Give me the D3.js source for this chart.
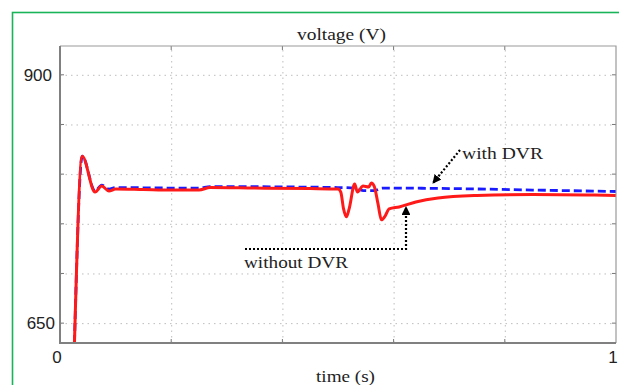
<!DOCTYPE html>
<html>
<head>
<meta charset="utf-8">
<script src="https://cdn.jsdelivr.net/npm/d3@7"></script>
<style>
  html, body { margin: 0; padding: 0; background: #fff; }
  #chart { width: 619px; height: 385px; }
  .grid line { stroke: #bdbdbd; stroke-width: 1; stroke-dasharray: 1.5,4; }
  .serif { font-family: "Liberation Serif", "DejaVu Serif", serif; fill: #222; font-size: 17px; }
</style>
</head>
<body>
<div id="chart"></div>
<script>

// time axis (s)
var xTicks = [0, 0.2, 0.4, 0.6, 0.8, 1];
var xTickLabels = ['0', '', '', '', '', '1'];
// voltage axis (V)
var yTicks = [650, 700, 750, 800, 850, 900];
var yTickLabels = ['650', '', '', '', '', '900'];

// without DVR (red, solid)
var timeNoDvr = [0.026, 0.040, 0.063, 0.075, 0.088, 0.10, 0.15, 0.20, 0.25, 0.27, 0.35, 0.45, 0.50,
    0.505, 0.51, 0.515, 0.52, 0.53, 0.535, 0.545, 0.555, 0.56, 0.565, 0.572, 0.578, 0.585, 0.592,
    0.61, 0.64, 0.68, 0.75, 0.85, 0.95, 1.0];
var voltNoDvr = [630, 818, 782, 788, 783, 785, 784.5, 784, 784, 786.5, 786, 785.5, 785,
    782, 765, 757, 765, 790, 782, 788, 787, 791, 788, 770, 754, 758, 765,
    767, 772, 776, 778.5, 779.5, 779, 778.5];

// with DVR (blue, dashed)
var timeDvr = [0.026, 0.040, 0.063, 0.075, 0.088, 0.10, 0.20, 0.25, 0.27, 0.50, 0.53, 0.545, 0.565, 0.58, 0.70, 0.85, 1.0];
var voltDvr = [630, 818, 783, 789, 785, 786.5, 786, 786, 787.5, 786.5, 786, 783.5, 783.5, 786, 785.5, 784, 782.5];

function show_chart(div_id_chart) {

    var margin = {top: 46, right: 3, bottom: 42, left: 60},
        width = 619 - margin.left - margin.right,
        height = 385 - margin.top - margin.bottom;

    var svg = d3.select('#' + div_id_chart).append('svg')
        .attr('width', 619)
        .attr('height', 385);

    // green frame round the figure
    svg.append('rect')
        .attr('x', 12.5).attr('y', 12.5)
        .attr('width', 640).attr('height', 400)
        .attr('fill', 'none')
        .attr('stroke', '#19b35a')
        .attr('stroke-width', 1.6);

    var g = svg.append('g')
        .attr('transform', 'translate(' + margin.left + ',' + margin.top + ')');

    var x = d3.scaleLinear().domain([0, 1]).range([0, width]);
    var y = d3.scaleLinear().domain([630, 929]).range([height, 0]);

    // dotted grid
    g.append('g').attr('class', 'grid')
        .attr('transform', 'translate(0,' + height + ')')
        .call(d3.axisBottom(x).tickValues(xTicks.slice(1, -1)).tickSize(-height).tickFormat(''))
        .call(function (a) { a.select('.domain').remove(); });
    g.append('g').attr('class', 'grid')
        .call(d3.axisLeft(y).tickValues(yTicks).tickSize(-width).tickFormat(''))
        .call(function (a) { a.select('.domain').remove(); });

    // small inward ticks on all four sides
    var tickLen = 4;
    var tickG = g.append('g').attr('stroke', '#777').attr('stroke-width', 1);
    xTicks.slice(1, -1).forEach(function (t) {
        tickG.append('line').attr('x1', x(t)).attr('x2', x(t)).attr('y1', height).attr('y2', height - tickLen);
        tickG.append('line').attr('x1', x(t)).attr('x2', x(t)).attr('y1', 0).attr('y2', tickLen);
    });
    yTicks.forEach(function (v) {
        tickG.append('line').attr('x1', 0).attr('x2', tickLen).attr('y1', y(v)).attr('y2', y(v));
        tickG.append('line').attr('x1', width).attr('x2', width - tickLen).attr('y1', y(v)).attr('y2', y(v));
    });

    // clip for the curves
    svg.append('defs').append('clipPath').attr('id', 'plotclip')
        .append('rect').attr('width', width).attr('height', height);

    var line = d3.line()
        .x(function (d) { return x(d[0]); })
        .y(function (d) { return y(d[1]); })
        .curve(d3.curveMonotoneX);

    var curves = g.append('g').attr('clip-path', 'url(#plotclip)');

    curves.append('path')
        .datum(d3.zip(timeDvr, voltDvr))
        .attr('d', line)
        .attr('fill', 'none')
        .attr('stroke', '#1a1aff')
        .attr('stroke-width', 2.8)
        .attr('stroke-dasharray', '8,4');

    curves.append('path')
        .datum(d3.zip(timeNoDvr, voltNoDvr))
        .attr('d', line)
        .attr('fill', 'none')
        .attr('stroke', '#ff1a1a')
        .attr('stroke-width', 3);

    // plot frame: left and bottom heavier
    g.append('path')
        .attr('d', 'M0,0H' + width + 'V' + height)
        .attr('fill', 'none').attr('stroke', '#9a9a9a').attr('stroke-width', 1.2);
    g.append('path')
        .attr('d', 'M0,0V' + height + 'H' + width)
        .attr('fill', 'none').attr('stroke', '#808080').attr('stroke-width', 2);

    // tick labels
    var lab = g.append('g')
        .style('font-family', '"Liberation Sans", Arial, sans-serif')
        .style('font-size', '17px')
        .attr('fill', '#222');
    yTicks.forEach(function (v, i) {
        if (!yTickLabels[i]) return;
        lab.append('text')
            .attr('x', i === 0 ? -5 : -8)
            .attr('y', y(v))
            .attr('dy', '.36em')
            .style('text-anchor', 'end')
            .text(yTickLabels[i]);
    });
    xTicks.forEach(function (t, i) {
        if (!xTickLabels[i]) return;
        lab.append('text')
            .attr('x', x(t) - 3)
            .attr('y', height + 20)
            .style('text-anchor', 'middle')
            .text(xTickLabels[i]);
    });

    // titles
    svg.append('text').attr('class', 'serif')
        .attr('x', 297).attr('y', 39.5)
        .attr('textLength', 89).attr('lengthAdjust', 'spacingAndGlyphs')
        .text('voltage (V)');
    svg.append('text').attr('class', 'serif')
        .attr('x', 316).attr('y', 382)
        .attr('textLength', 59).attr('lengthAdjust', 'spacingAndGlyphs')
        .text('time (s)');

    // arrow head
    svg.select('defs').append('marker')
        .attr('id', 'arrow')
        .attr('viewBox', '0 0 10 10')
        .attr('refX', 9).attr('refY', 5)
        .attr('markerWidth', 4).attr('markerHeight', 4)
        .attr('markerUnits', 'strokeWidth')
        .attr('orient', 'auto')
        .append('path').attr('d', 'M0,0L10,5L0,10Z').attr('fill', '#000');

    // with DVR annotation
    svg.append('path')
        .attr('d', 'M460,150L433,183')
        .attr('fill', 'none').attr('stroke', '#000')
        .attr('stroke-width', 2.2).attr('stroke-dasharray', '2,2')
        .attr('marker-end', 'url(#arrow)');
    svg.append('text').attr('class', 'serif')
        .attr('x', 462).attr('y', 159)
        .attr('textLength', 81).attr('lengthAdjust', 'spacingAndGlyphs')
        .text('with DVR');

    // without DVR annotation
    svg.append('path')
        .attr('d', 'M245,249H406V207')
        .attr('fill', 'none').attr('stroke', '#000')
        .attr('stroke-width', 2.2).attr('stroke-dasharray', '2,2')
        .attr('marker-end', 'url(#arrow)');
    svg.append('text').attr('class', 'serif')
        .attr('x', 244).attr('y', 268)
        .attr('textLength', 104).attr('lengthAdjust', 'spacingAndGlyphs')
        .text('without DVR');
}

show_chart('chart');
</script>
</body>
</html>
